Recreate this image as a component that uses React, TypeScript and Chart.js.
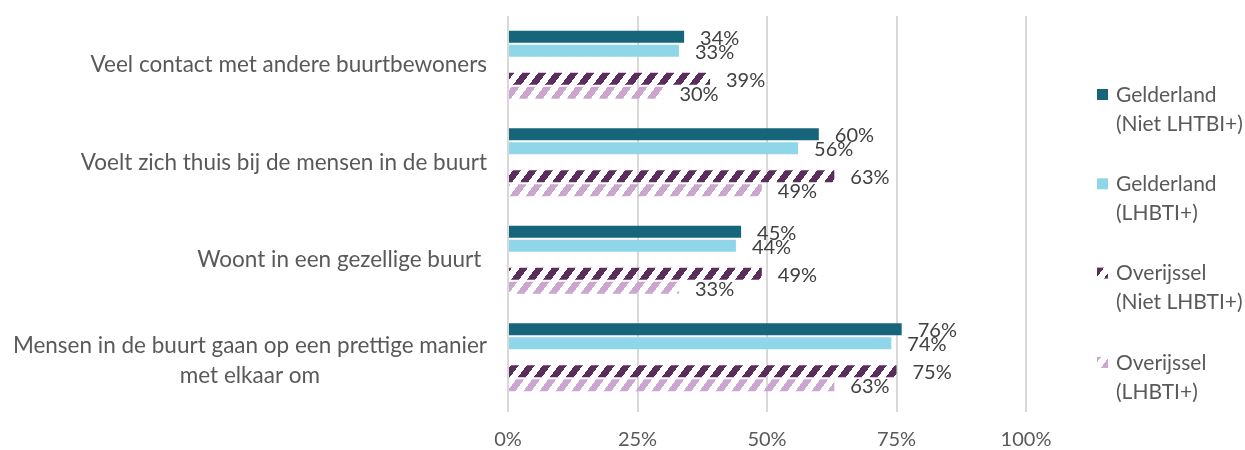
import React, { useEffect, useRef } from "react";
import { Chart, registerables } from "chart.js";
Chart.register(...registerables);

const categories: string[][] = [
  ["Veel contact met andere buurtbewoners"],
  ["Voelt zich thuis bij de mensen in de buurt"],
  ["Woont in een gezellige buurt "],
  ["Mensen in de buurt gaan op een prettige manier", "met elkaar om"],
];
const seriesNames: string[][] = [
  ["Gelderland", "(Niet LHTBI+)"],
  ["Gelderland", "(LHBTI+)"],
  ["Overijssel", "(Niet LHBTI+)"],
  ["Overijssel", "(LHBTI+)"],
];
const gelderlandNiet = [34, 60, 45, 76];
const gelderlandLhbti = [33, 56, 44, 74];
const overijsselNiet = [39, 63, 49, 75];
const overijsselLhbti = [30, 49, 33, 63];
const xTickValues = [0, 25, 50, 75, 100];

const FONT = "Lato, 'Open Sans', sans-serif";

function hexToRgb(hex: string): number[] {
  const h = hex.replace("#", "");
  return [0, 2, 4].map((i) => parseInt(h.substr(i, 2), 16));
}

function makeHatch(color: string): CanvasPattern | string {
  const w = 16, h = 64;
  const c = document.createElement("canvas");
  c.width = w;
  c.height = h;
  const ctx = c.getContext("2d");
  if (!ctx) return color;
  const img = ctx.createImageData(w, h);
  const [r, g, b] = hexToRgb(color);
  for (let y = 0; y < h; y++) {
    for (let x = 0; x < w; x++) {
      const v = (((x + y * 0.75) % 16) + 16) % 16;
      if (v < 8) {
        const i = (y * w + x) * 4;
        img.data[i] = r;
        img.data[i + 1] = g;
        img.data[i + 2] = b;
        img.data[i + 3] = 255;
      }
    }
  }
  ctx.putImageData(img, 0, 0);
  const p = ctx.createPattern(c, "repeat");
  return p || color;
}

export default function App() {
  const ref = useRef<HTMLCanvasElement | null>(null);

  useEffect(() => {
    if (!ref.current) return;
    const darkPurple = makeHatch("#5A2D5C");
    const lightPurple = makeHatch("#CBA6CF");

    const seriesFills: any[] = ["#17657A", "#8FD7E8", darkPurple, lightPurple];
    const seriesData = [gelderlandNiet, gelderlandLhbti, overijsselNiet, overijsselLhbti];

    const datasets: any[] = [
      { label: seriesNames[0].join(" "), data: seriesData[0], backgroundColor: seriesFills[0], _legend: 0 },
      { label: seriesNames[1].join(" "), data: seriesData[1], backgroundColor: seriesFills[1], _legend: 1 },
      { label: "", data: categories.map(() => null), backgroundColor: "rgba(0,0,0,0)", _legend: -1 },
      { label: seriesNames[2].join(" "), data: seriesData[2], backgroundColor: seriesFills[2], _legend: 2 },
      { label: seriesNames[3].join(" "), data: seriesData[3], backgroundColor: seriesFills[3], _legend: 3 },
    ];

    const overlay = {
      id: "overlay",
      afterDatasetsDraw(chart: any) {
        const ctx = chart.ctx;
        ctx.save();
        ctx.font = `20px ${FONT}`;
        ctx.fillStyle = "#404040";
        ctx.textAlign = "left";
        ctx.textBaseline = "middle";
        chart.data.datasets.forEach((ds: any, di: number) => {
          if (ds._legend < 0) return;
          const meta = chart.getDatasetMeta(di);
          meta.data.forEach((el: any, i: number) => {
            const v = ds.data[i];
            if (v == null) return;
            ctx.fillText(`${v}%`, el.x + 16, el.y + 1.5);
          });
        });
        ctx.restore();
      },
      afterDraw(chart: any) {
        const ctx = chart.ctx;
        const yScale = chart.scales.y;
        ctx.save();
        // category labels
        ctx.font = `22.5px ${FONT}`;
        ctx.fillStyle = "#595959";
        ctx.textAlign = "center";
        ctx.textBaseline = "middle";
        const right = 487;
        const lineH = 30;
        categories.forEach((lines, i) => {
          const cy = yScale.getPixelForTick(i);
          const widths = lines.map((l) => ctx.measureText(l).width);
          const maxW = Math.max(...widths);
          const cx = right - maxW / 2;
          const top = cy - ((lines.length - 1) * lineH) / 2 + (lines.length > 1 ? 3 : 0);
          lines.forEach((l, j) => ctx.fillText(l, cx, top + j * lineH));
        });
        // legend
        ctx.font = `21px ${FONT}`;
        ctx.textAlign = "left";
        ctx.textBaseline = "middle";
        const lx = 1097;
        const tx = 1116;
        const startY = 95;
        const gap = 89.3;
        seriesNames.forEach((lines, i) => {
          const y = startY + i * gap;
          ctx.fillStyle = seriesFills[i];
          ctx.fillRect(lx, y - 6, 11, 11);
          ctx.fillStyle = "#595959";
          lines.forEach((l, j) => ctx.fillText(l, tx, y + j * 29));
        });
        ctx.restore();
      },
    };

    const chart = new Chart(ref.current, {
      type: "bar",
      data: {
        labels: categories,
        datasets,
      },
      options: {
        indexAxis: "y",
        animation: false,
        responsive: true,
        maintainAspectRatio: false,
        layout: { padding: { top: 16, right: 219, left: 0, bottom: 0 } },
        datasets: {
          bar: { categoryPercentage: 0.718, barPercentage: 0.857 },
        },
        plugins: {
          legend: { display: false },
          tooltip: { enabled: false },
        },
        scales: {
          x: {
            min: 0,
            max: 100,
            afterBuildTicks(scale: any) {
              scale.ticks = xTickValues.map((v) => ({ value: v }));
            },
            afterFit(scale: any) {
              scale.height = 44;
            },
            ticks: {
              callback: (v: any) => `${v}%`,
              color: "#595959",
              font: { family: FONT, size: 20 },
              padding: 16,
              maxRotation: 0,
            },
            grid: {
              color: "#D9D9D9",
              lineWidth: 2,
              tickLength: 6,
            },
            border: { display: false },
          },
          y: {
            afterFit(scale: any) {
              scale.width = 508;
            },
            ticks: { display: false },
            grid: { display: false },
            border: { display: false },
          },
        },
      },
      plugins: [overlay],
    } as any);
    return () => chart.destroy();
  }, []);

  return (
    <div style={{ position: "fixed", left: 0, top: 0, width: 1245, height: 450, background: "#fff" }}>
      <canvas ref={ref} />
    </div>
  );
}
